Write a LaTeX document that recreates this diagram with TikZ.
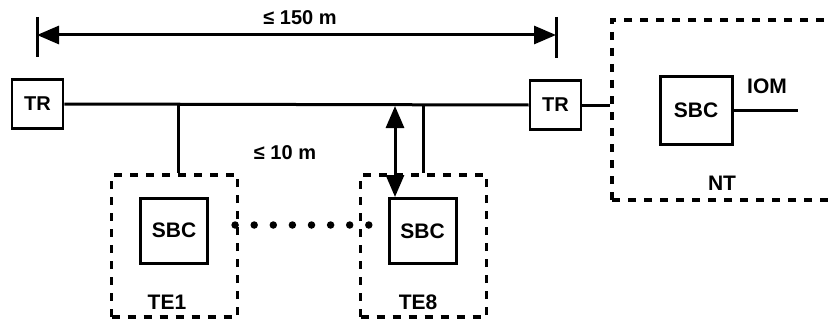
\documentclass[tikz,border=0pt]{standalone}
\usepackage{fontspec}
\setmainfont{Liberation Sans}
\usetikzlibrary{arrows.meta, positioning}

\begin{document}
\begin{tikzpicture}[
    x=1pt, y=-1pt,
    line width=3pt,
    trbox/.style={rectangle, draw, line width=2.8pt, minimum width=51pt, minimum height=49pt, inner sep=0pt, font=\fontsize{20}{22}\selectfont\bfseries},
    sbcbox/.style={rectangle, draw, line width=3pt, minimum width=67pt, minimum height=65pt, inner sep=0pt, font=\fontsize{21}{24}\selectfont\bfseries},
    station/.style={rectangle, draw, dash pattern=on 8pt off 8pt, line width=3.2pt, minimum width=126pt, minimum height=142pt, inner sep=0pt},
    lbl/.style={font=\fontsize{21}{24}\selectfont\bfseries, inner sep=0pt},
    arrow/.style={{Triangle[length=22pt,width=18pt]}-{Triangle[length=22pt,width=18pt]}, line width=3pt},
    dots/.style={line width=7.5pt, line cap=round, dash pattern=on 0pt off 19.1pt}
]
\useasboundingbox (0,0) rectangle (829,321);

% Nodes
\node (trL) [trbox] at (37.5,104) {TR};
\node (trR) [trbox] at (555.5,105) {TR};
\node (te1) [station] at (174.5,246) {};
\node (te8) [station] at (423.5,246) {};
\node (nt) [station, minimum width=240pt, minimum height=180pt] at (732,110) {};
\node (sbc1) [sbcbox] at (174,230.5) {SBC};
\node (sbc8) [sbcbox] at (422.5,231) {SBC};
\node (sbcN) [sbcbox, minimum width=72pt, minimum height=68pt] at (696,110) {SBC};
\node (lte1) [lbl] at (167,302) {TE1};
\node (lte8) [lbl] at (418,302) {TE8};
\node (lnt) [lbl] at (722,183) {NT};
\node (liom) [lbl] at (767,86) {IOM};
\node (l150) [lbl, font=\fontsize{20}{23}\selectfont\bfseries] at (300,18) {≤ 150 m};
\node (l10) [lbl, font=\fontsize{20}{23}\selectfont\bfseries] at (285,153) {≤ 10 m};

\coordinate (dimL) at (37,35);
\coordinate (dimR) at (556,35);
\coordinate (tap1) at (178,105);
\coordinate (tap8) at (423,105);
\coordinate (len) at (395,106);
\coordinate (iom) at (798,110);

% Bus and stubs
\draw (trL.east) -- (trR.west);
\draw (trR.east) -- (trR.east -| nt.west);
\draw (tap1) -- (tap1 |- te1.north);
\draw (tap8) -- (tap8 |- te8.north);
\draw (sbcN.east) -- (iom);

% Lengths
\draw [arrow] (dimL) -- (dimR);
\draw (dimL) ++(0,-18) -- ++(0,40);
\draw (dimR) ++(0,-18) -- ++(0,41);
\draw [arrow] (len) -- (len |- sbc8.north);

% Further terminals
\draw [dots] (te1.east |- 0,225) ++(-4,0) -- ++(134,0);

\end{tikzpicture}
\end{document}
